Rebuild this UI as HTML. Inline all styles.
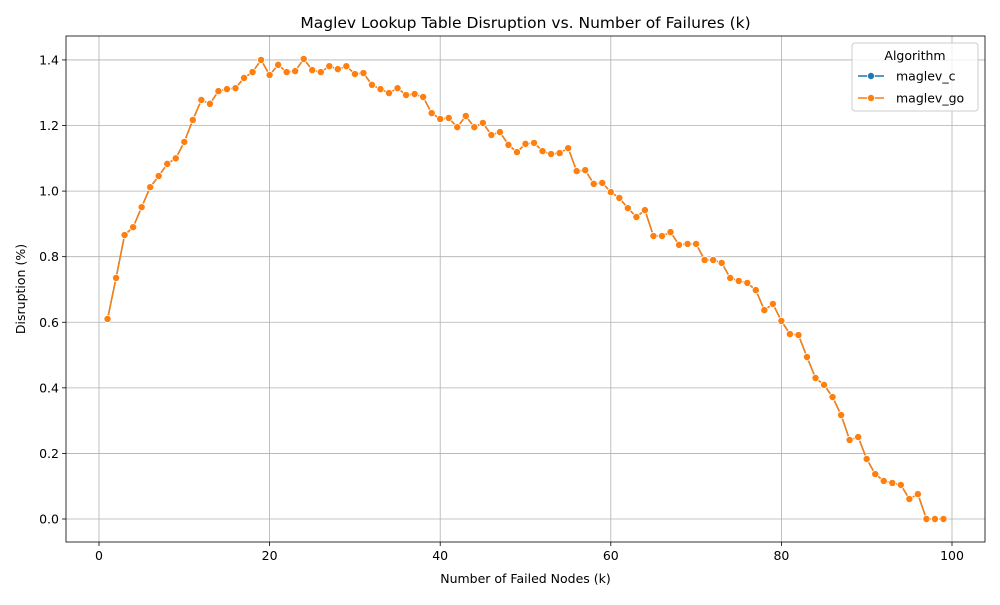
<!DOCTYPE html>
<html><head><meta charset="utf-8"><style>
body{margin:0;background:#fff;font-family:"Liberation Sans","DejaVu Sans",sans-serif}
</style></head><body>
<svg id="chart" width="1000" height="600" xmlns="http://www.w3.org/2000/svg" font-family="DejaVu Sans, Liberation Sans, sans-serif"></svg>
<script>
const xValues = Array.from({length:99},(_,i)=>i+1);
const maglevGo = [0.61,0.735,0.866,0.89,0.951,1.012,1.046,1.083,1.10,1.15,1.217,1.278,1.266,1.305,1.311,1.314,1.345,1.363,1.40,1.354,1.385,1.363,1.366,1.403,1.369,1.363,1.381,1.372,1.381,1.357,1.36,1.324,1.311,1.299,1.314,1.293,1.296,1.287,1.238,1.22,1.223,1.195,1.229,1.195,1.208,1.171,1.18,1.141,1.119,1.144,1.147,1.122,1.113,1.116,1.131,1.061,1.064,1.022,1.025,0.997,0.979,0.948,0.921,0.942,0.863,0.863,0.875,0.836,0.839,0.839,0.79,0.79,0.781,0.735,0.726,0.72,0.698,0.637,0.656,0.604,0.564,0.561,0.494,0.43,0.409,0.372,0.317,0.241,0.25,0.183,0.137,0.116,0.11,0.104,0.061,0.076,0,0,0];
const maglevC = maglevGo.slice();
const xTicks = [0,20,40,60,80,100];
const yTicks = [0.0,0.2,0.4,0.6,0.8,1.0,1.2,1.4];

const svg = document.getElementById('chart');
const NS = 'http://www.w3.org/2000/svg';
const L=66,R=985,T=36,B=542;
const xs = v => 99 + v*8.53;
const ys = v => 519 - v*327.9;
function mk(tag, attrs, parent){const e=document.createElementNS(NS,tag);for(const k in attrs)e.setAttribute(k,attrs[k]);(parent||svg).appendChild(e);return e;}

xTicks.forEach(t=>{
  const g=mk('line',{x1:xs(t),x2:xs(t),y1:T,y2:B,stroke:'#b0b0b0','stroke-width':0.8});
  
  
  mk('line',{x1:xs(t),x2:xs(t),y1:B,y2:B+4,stroke:'#000','stroke-width':0.8});
  const tx=mk('text',{x:xs(t),y:B+18,'text-anchor':'middle','font-size':12.5,fill:'#000'});
  tx.textContent=t;
  
  
});
yTicks.forEach(t=>{
  const g=mk('line',{x1:L,x2:R,y1:ys(t),y2:ys(t),stroke:'#b0b0b0','stroke-width':0.8});
  
  
  mk('line',{x1:L-4,x2:L,y1:ys(t),y2:ys(t),stroke:'#000','stroke-width':0.8});
  const tx=mk('text',{x:L-7,y:ys(t)+4.5,'text-anchor':'end','font-size':12.5,fill:'#000'});
  tx.textContent=t.toFixed(1);
  
  
});

function series(vals,color,name){
  const p=mk('polyline',{points:vals.map((v,i)=>xs(xValues[i])+','+ys(v)).join(' '),fill:'none',stroke:color,'stroke-width':1.5});
  
  
  vals.forEach((v,i)=>{
    const c=mk('circle',{cx:xs(xValues[i]),cy:ys(v),r:3.6,fill:color,stroke:'#fff','stroke-width':0.8});
    
    
  });
}
series(maglevC,'#1f77b4','maglev-c');
series(maglevGo,'#ff7f0e','maglev-go');

const frame=mk('rect',{x:L,y:T,width:R-L,height:B-T,fill:'none',stroke:'#000','stroke-width':0.8});



const title=mk('text',{x:(L+R)/2,y:28,'text-anchor':'middle','font-size':15.5,fill:'#000'});
title.textContent='Maglev Lookup Table Disruption vs. Number of Failures (k)';


const xl=mk('text',{x:(L+R)/2,y:583,'text-anchor':'middle','font-size':12.5,fill:'#000'});
xl.textContent='Number of Failed Nodes (k)';


const yl=mk('text',{x:25,y:(T+B)/2,'text-anchor':'middle','font-size':12.5,fill:'#000',transform:'rotate(-90 25 '+((T+B)/2)+')'});
yl.textContent='Disruption (%)';



const lg=mk('g',{});


mk('rect',{x:852,y:43,width:126,height:68,rx:3,fill:'#fff','fill-opacity':0.8,stroke:'#ccc'},lg);
const lt=mk('text',{x:915,y:60,'text-anchor':'middle','font-size':12.5,fill:'#000'},lg);
lt.textContent='Algorithm';
[['maglev_c','#1f77b4',76],['maglev_go','#ff7f0e',98]].forEach(([n,c,y])=>{
  const e=mk('g',{},lg);
  
  
  mk('line',{x1:858,x2:884,y1:y,y2:y,stroke:c,'stroke-width':1.5},e);
  mk('circle',{cx:871,cy:y,r:3.6,fill:c,stroke:'#fff','stroke-width':0.8},e);
  const t=mk('text',{x:896,y:y+4.5,'font-size':12.5,fill:'#000'},e);
  t.textContent=n;
});
</script>
</body></html>
